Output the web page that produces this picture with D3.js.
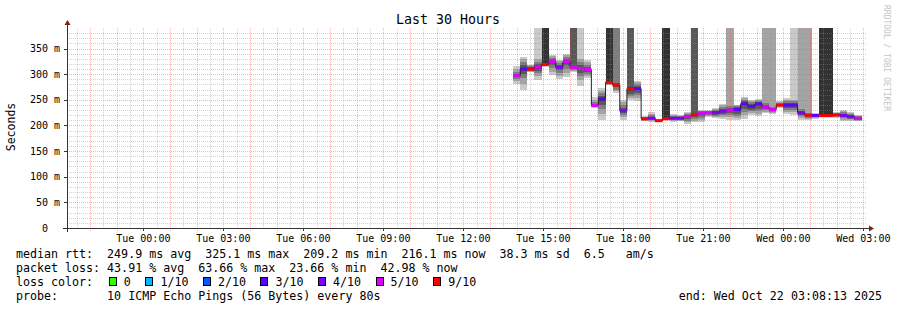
<!DOCTYPE html>
<html>
<head>
<meta charset="utf-8">
<script src="https://cdn.jsdelivr.net/npm/d3@7"></script>
<style>
  body { margin: 0; background: #fff; }
  svg text { font-family: "DejaVu Sans Mono", monospace; white-space: pre; }
</style>
</head>
<body>
<svg id="chart" width="897" height="310"></svg>
<script>
// ping value that is off the top of the graph (gets clipped)
const H = 9999;

// 16 minute consolidated steps, first one starts Tue 13:52 UTC
const firstStep = Date.UTC(2025, 9, 21, 13, 52);
const stepMs = 16 * 60 * 1000;

// median rtt per step (ms)
const medians = [
  297, 310, 310, 313.5, 319, 324.6, 313.5, 324.6, 313.5, 311,
  309, 239, 252, 284, 278.5, 228.6, 271.4, 271.4, 213, 214,
  209.2, 213, 214, 214, 217.5, 220.8, 224, 224.7, 225.3, 228,
  230, 231, 242, 237, 242, 235.7, 231, 239.6, 239.6, 239.6,
  224.7, 220, 219.5, 219, 219, 220.8, 219.5, 217, 214
];

// lost pings out of 10 per step (picks the median colour)
const lossLevel = [
  5, 3, 9, 5, 9, 5, 4, 5, 5, 5,
  5, 5, 3, 9, 9, 4, 9, 3, 9, 4,
  9, 9, 4, 4, 5, 9, 5, 5, 4, 4,
  5, 3, 3, 3, 3, 5, 5, 9, 3, 3,
  4, 9, 3, 9, 9, 9, 4, 4, 5
];

// sorted ping times per step (ms), 10 pings each
const pings = [
  [280, 286, 290, 294, 296, 298, 301, 305, 310, 315],
  [269, 280, 292, 300, 308, 312, 318, 324, 330, 333],
  [305, 305, 306, 307, 309, 311, 313, 315, 317, 317],
  [289, 296, 302, 307, 311, 315, 319, 323, 330, H],
  [313, 315, 316, 317, 318, H, H, H, H, H],
  [298, 305, 312, 318, 323, 326, 329, 332, 335, 338],
  [291, 297, 303, 308, 312, 315, 318, 322, 325, 328],
  [294, 302, 310, 317, 322, 326, 330, 334, 337, 339],
  [305, 307, 309, 311, 313, 315, H, H, H, H],
  [277, 288, 296, 303, 309, 313, 318, 324, 330, H],
  [293, 297, 301, 305, 308, 310, 314, 318, 323, 328],
  [234, 236, 237, 238, 239, 240, 242, 245, 250, 255],
  [211, 222, 232, 240, 248, 254, 258, 263, 268, 273],
  [278, 279, 280, 282, 283, H, H, H, H, H],
  [263, 267, 270, 274, 277, 280, 283, H, H, H],
  [211, 216, 220, 224, 227, 230, 234, 239, 245, 250],
  [250, 254, 258, 262, 268, 274, H, H, H, H],
  [247, 253, 259, 264, 269, 273, 277, 281, 285, 287],
  [208, 209, 210, 211, 212, 214, 215, 216, 217, 218],
  [206, 208, 210, 212, 213, 215, 217, 220, 223, 226],
  [206, 207, 207, 208, 209, 209, 210, 211, 212, 212],
  [210, 211, 212, 212, 213, H, H, H, H, H],
  [206, 208, 210, 212, 213, 215, 216, 218, 220, 222],
  [208, 209, 210, 212, 213, 215, 216, 218, 219, 221],
  [203, 206, 209, 213, 216, 219, 221, 223, 225, 226],
  [206, 209, 213, 216, 219, 222, H, H, H, H],
  [206, 210, 214, 218, 222, 225, 227, 228, 229, 230],
  [217, 219, 221, 222, 224, 225, 226, 228, 229, 230],
  [214, 217, 219, 221, 224, 226, 228, 230, 232, 234],
  [213, 217, 220, 223, 226, 229, 232, 235, 239, 242],
  [211, 216, 220, 224, 228, 231, 234, 238, H, H],
  [211, 215, 219, 223, 228, 233, 235, 237, 239, 240],
  [213, 220, 226, 232, 239, 244, 247, 250, 253, 255],
  [221, 224, 228, 231, 235, 239, 242, 245, 248, 250],
  [219, 223, 228, 233, 240, 243, 246, 248, 250, 252],
  [224, 227, 230, 232, 234, 237, 240, 243, H, H],
  [222, 225, 227, 229, 230, 232, 234, 236, H, H],
  [234, 235, 237, 238, 239, 240, 242, 243, 245, 247],
  [222, 226, 230, 234, 238, 241, 244, 247, 250, 253],
  [221, 226, 230, 234, 238, 241, 244, 247, 250, H],
  [211, 215, 218, 221, 223, 226, 229, 232, H, H],
  [210, 213, 215, 217, 219, 221, 223, 225, H, H],
  [213, 215, 216, 218, 219, 220, 221, 222, 223, 224],
  [217, 217, 218, 218, 219, H, H, H, H, H],
  [217, 218, 218, 219, 219, H, H, H, H, H],
  [214, 216, 217, 219, 220, 221, 222, 223, 225, 226],
  [208, 211, 214, 217, 219, 221, 223, 226, 228, 230],
  [209, 211, 213, 215, 216, 218, 220, 222, 224, 226],
  [208, 209, 210, 211, 212, 214, 216, 218, 219, 221]
];

// smoke shades, outer pair to inner pair
const smokeShades = ["#cacaca", "#a4a4a4", "#7e7e7e", "#585858", "#323232"];

// loss colour legend
const lossKeys = [0, 1, 2, 3, 4, 5, 9];
const lossLabels = ["0", "1/10", "2/10", "3/10", "4/10", "5/10", "9/10"];
const lossColors = ["#26ff00", "#00b8ff", "#0059ff", "#5e00ff", "#7e00ff", "#dd00ff", "#ff0000"];

const yTicks = [0, 50, 100, 150, 200, 250, 300, 350];

const legendLines = [
  "median rtt:  249.9 ms avg  325.1 ms max  209.2 ms min  216.1 ms now  38.3 ms sd  6.5   am/s",
  "packet loss: 43.91 % avg  63.66 % max  23.66 % min  42.98 % now"
];
const probeText = "probe:       10 ICMP Echo Pings (56 Bytes) every 80s";
const endText = "end: Wed Oct 22 03:08:13 2025";

// --- layout
const plotL = 67, plotR = 867, plotT = 28, plotB = 228;
const tStart = new Date(Date.UTC(2025, 9, 20, 21, 8, 13));
const tEnd = new Date(Date.UTC(2025, 9, 22, 3, 8, 13));
const yMax = 390;

const svg = d3.select("#chart");
svg.append("rect").attr("width", 897).attr("height", 310).attr("fill", "#fff");

const x = d3.scaleUtc().domain([tStart, tEnd]).range([plotL, plotR]);
const y = d3.scaleLinear().domain([0, yMax]).range([plotB, plotT]);
const px = v => Math.round(v) + 0.5;
const yc = v => y(Math.min(v, yMax));

const steps = medians.map((m, i) => ({
  t0: new Date(firstStep + i * stepMs),
  t1: new Date(firstStep + (i + 1) * stepMs),
  median: m,
  loss: lossLevel[i],
  pings: pings[i]
}));

// smoke
const smoke = svg.append("g").attr("shape-rendering", "crispEdges");
steps.forEach(s => {
  smokeShades.forEach((shade, k) => {
    const lo = s.pings[k], hi = s.pings[9 - k];
    smoke.append("rect")
      .attr("x", Math.round(x(s.t0)))
      .attr("width", Math.round(x(s.t1)) - Math.round(x(s.t0)))
      .attr("y", Math.round(yc(hi)))
      .attr("height", Math.max(1, Math.round(yc(lo)) - Math.round(yc(hi))))
      .attr("fill", shade);
  });
});

// grid (drawn over the graph, like rrdtool)
const grid = svg.append("g").attr("shape-rendering", "crispEdges");
const minorX = d3.utcMinute.every(30).range(tStart, tEnd).filter(d => d.getUTCMinutes() !== 0);
const majorX = d3.utcHour.every(1).range(tStart, tEnd);
const minorY = d3.range(10, yMax, 10).filter(v => v % 50 !== 0);
const majorY = d3.range(50, yMax, 50);

grid.selectAll(".vmin").data(minorX).join("line")
  .attr("x1", d => px(x(d))).attr("x2", d => px(x(d)))
  .attr("y1", plotT).attr("y2", plotB)
  .attr("stroke", "#8f8f8f").attr("stroke-opacity", 0.4).attr("stroke-dasharray", "1,1");
grid.selectAll(".hmin").data(minorY).join("line")
  .attr("x1", plotL).attr("x2", plotR)
  .attr("y1", d => px(y(d))).attr("y2", d => px(y(d)))
  .attr("stroke", "#8f8f8f").attr("stroke-opacity", 0.4).attr("stroke-dasharray", "1,1");
grid.selectAll(".vmaj").data(majorX).join("line")
  .attr("x1", d => px(x(d))).attr("x2", d => px(x(d)))
  .attr("y1", plotT).attr("y2", plotB + 3)
  .attr("stroke", "#de5151").attr("stroke-opacity", 0.42).attr("stroke-dasharray", "1,1");
grid.selectAll(".hmaj").data(majorY).join("line")
  .attr("x1", plotL).attr("x2", plotR)
  .attr("y1", d => px(y(d))).attr("y2", d => px(y(d)))
  .attr("stroke", "#de5151").attr("stroke-opacity", 0.42).attr("stroke-dasharray", "1,1");

// median line: thin dark stair, loss-coloured segments on top
const stair = steps.map(s => [x(s.t0), y(s.median)]);
stair.push([x(steps[steps.length - 1].t1), y(steps[steps.length - 1].median)]);
svg.append("path")
  .attr("d", d3.line().curve(d3.curveStepAfter)(stair))
  .attr("fill", "none").attr("stroke", "#202020").attr("stroke-width", 1);

const colorOf = l => lossColors[lossKeys.indexOf(l)];
svg.append("g").selectAll("line").data(steps).join("line")
  .attr("x1", d => x(d.t0)).attr("x2", d => x(d.t1))
  .attr("y1", d => y(d.median)).attr("y2", d => y(d.median))
  .attr("stroke", d => colorOf(d.loss)).attr("stroke-width", 3);

// axes
const axisCol = "#333";
const arrowCol = "#8b1a1a";
svg.append("line").attr("x1", plotL - 4).attr("x2", plotR + 2)
  .attr("y1", plotB + 0.5).attr("y2", plotB + 0.5).attr("stroke", axisCol);
svg.append("line").attr("x1", plotL + 0.5).attr("x2", plotL + 0.5)
  .attr("y1", plotB + 4).attr("y2", plotT - 3).attr("stroke", axisCol);
svg.append("path").attr("d", `M${plotR + 7},${plotB + 0.5} L${plotR + 2},${plotB - 2.5} L${plotR + 2},${plotB + 3.5} Z`)
  .attr("fill", arrowCol);
svg.append("path").attr("d", `M${plotL + 0.5},${plotT - 8} L${plotL - 2.5},${plotT - 3} L${plotL + 3.5},${plotT - 3} Z`)
  .attr("fill", arrowCol);

// y ticks and labels
const yAxis = svg.append("g");
yAxis.selectAll("line").data(yTicks).join("line")
  .attr("x1", plotL - 3).attr("x2", plotL)
  .attr("y1", d => px(y(d))).attr("y2", d => px(y(d)))
  .attr("stroke", axisCol);
yAxis.selectAll("text").data(yTicks).join("text")
  .attr("x", 60).attr("y", d => y(d) + 3.6)
  .attr("text-anchor", "end").attr("font-size", 10).attr("fill", "#000")
  .text(d => d === 0 ? "0  " : `${d} m`);

// x labels every 3 hours
const labelTimes = d3.utcHour.every(3).range(tStart, tEnd);
const fmt = d3.utcFormat("%a %H:%M");
const xAxis = svg.append("g");
xAxis.selectAll("line").data(labelTimes).join("line")
  .attr("x1", d => px(x(d))).attr("x2", d => px(x(d)))
  .attr("y1", plotB).attr("y2", plotB + 3).attr("stroke", axisCol);
xAxis.selectAll("text").data(labelTimes).join("text")
  .attr("x", d => x(d)).attr("y", 241.5)
  .attr("text-anchor", "middle").attr("font-size", 10).attr("fill", "#000")
  .text(fmt);

// title, axis label, watermark
svg.append("text").attr("x", 448).attr("y", 24).attr("text-anchor", "middle")
  .attr("font-size", 13.3).text("Last 30 Hours");
svg.append("text").attr("transform", "translate(15,127) rotate(-90)")
  .attr("text-anchor", "middle").attr("font-size", 11.5).text("Seconds");
svg.append("text").attr("transform", "translate(884,5) rotate(90)")
  .attr("font-size", 8).attr("fill", "#c4c4c4").text("RRDTOOL / TOBI OETIKER");

// legend
const fs = 11.65, cw = fs * 0.602;
legendLines.forEach((t, i) => {
  svg.append("text").attr("x", 16).attr("y", 258 + i * 14).attr("font-size", fs).text(t);
});
svg.append("text").attr("x", 16).attr("y", 286).attr("font-size", fs).text("loss color:");
let bx = 16 + 13 * cw + 1.7;
lossLabels.forEach((lab, i) => {
  svg.append("rect").attr("x", Math.round(bx) + 0.5).attr("y", 277.5).attr("width", 7).attr("height", 8)
    .attr("fill", lossColors[i]).attr("stroke", "#000");
  const tx = bx + 15;
  svg.append("text").attr("x", tx).attr("y", 286).attr("font-size", fs).text(lab);
  bx = tx + lab.length * cw + 14.5;
});
svg.append("text").attr("x", 16).attr("y", 300).attr("font-size", fs).text(probeText);
svg.append("text").attr("x", 882).attr("y", 300).attr("text-anchor", "end").attr("font-size", fs).text(endText);
</script>
</body>
</html>
